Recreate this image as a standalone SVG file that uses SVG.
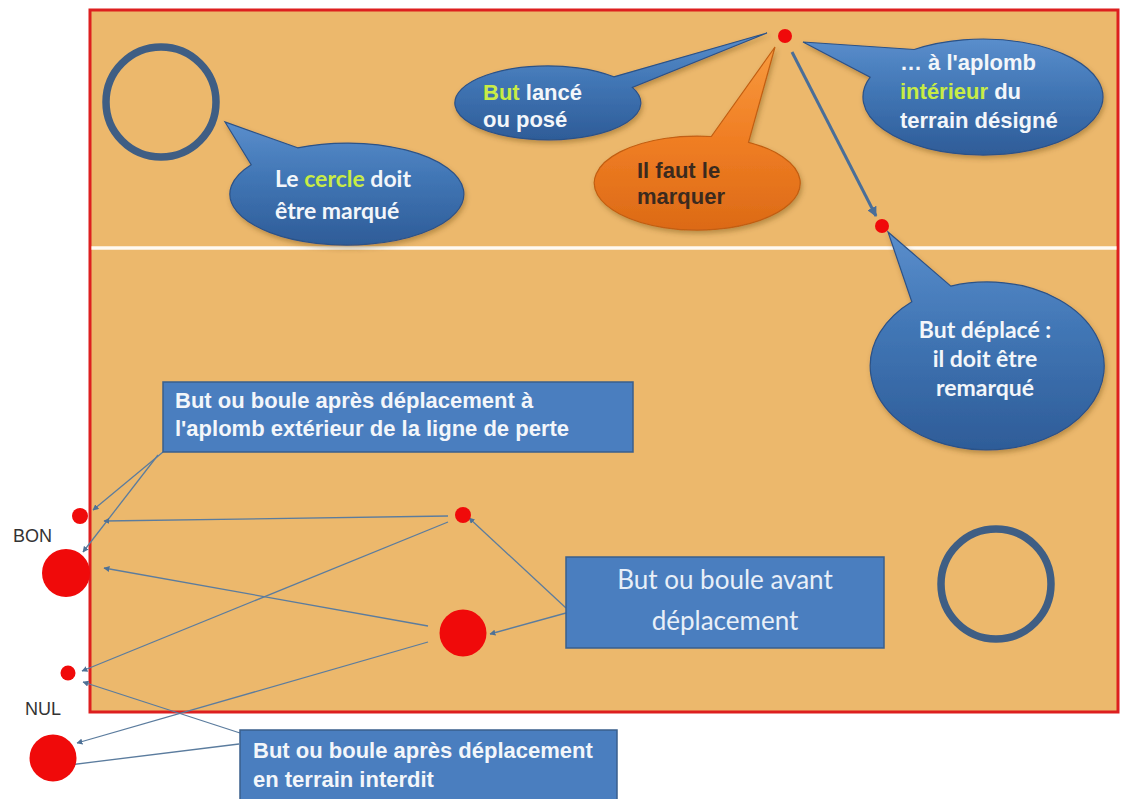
<svg xmlns="http://www.w3.org/2000/svg" width="1121" height="799" viewBox="0 0 1121 799">
  <defs>
    <style>
      .field { fill: #ECB86C; stroke: #DD1F1F; stroke-width: 3; }
      .midline { stroke: #FFFAF2; stroke-width: 3.5; }
      .ring { fill: none; stroke: #3F5E84; stroke-width: 7.5; }
      .ball { fill: #F00A0A; }
      .callout { fill: url(#blueGrad); stroke: #2C5287; stroke-width: 1.2; filter: url(#shadow); }
      .callout-o { fill: url(#orangeGrad); stroke: #C25E12; stroke-width: 1.2; filter: url(#shadow); }
      .box { fill: #4A7EBF; stroke: #3A5F8C; stroke-width: 1.5; }
      .t-arial { font-family: "Liberation Sans", Arial, sans-serif; font-weight: bold; font-size: 22px; fill: #F3F6FA; }
      .t-cal { font-family: Lato, "Open Sans", sans-serif; font-weight: bold; font-size: 23px; fill: #F3F6FA; }
      .t-box2 { font-family: Lato, "Open Sans", sans-serif; font-size: 26px; fill: #E8EFF8; text-anchor: middle; }
      .hl { fill: #C8EC45; }
      .dark { fill: #3B2A1E; }
      .lbl { font-family: "Liberation Sans", Arial, sans-serif; font-size: 18px; fill: #333333; }
      .conn { stroke: #5B7C9E; stroke-width: 1.3; fill: none; marker-end: url(#ah); }
      .conn-thick { stroke: #4A6E98; stroke-width: 3; fill: none; marker-end: url(#ahBig); }
    </style>
    <linearGradient id="blueGrad" x1="0" y1="0" x2="0" y2="1">
      <stop offset="0" stop-color="#5A8ECC"/>
      <stop offset="0.45" stop-color="#4176B5"/>
      <stop offset="1" stop-color="#2E5C98"/>
    </linearGradient>
    <linearGradient id="orangeGrad" x1="0" y1="0" x2="0" y2="1">
      <stop offset="0" stop-color="#F79A3E"/>
      <stop offset="0.5" stop-color="#F07E24"/>
      <stop offset="1" stop-color="#DC6A16"/>
    </linearGradient>
    <filter id="shadow" x="-20%" y="-20%" width="140%" height="150%">
      <feDropShadow dx="1.5" dy="3" stdDeviation="2.5" flood-color="#5A3A10" flood-opacity="0.35"/>
    </filter>
    <marker id="ah" viewBox="0 0 10 10" refX="9" refY="5" markerWidth="6" markerHeight="6" markerUnits="userSpaceOnUse" orient="auto">
      <path d="M0,0 L10,5 L0,10 z" fill="#4E7196"/>
    </marker>
    <marker id="ahBig" viewBox="0 0 10 10" refX="9" refY="5" markerWidth="10" markerHeight="10" markerUnits="userSpaceOnUse" orient="auto">
      <path d="M0,0 L10,5 L0,10 z" fill="#4A6E98"/>
    </marker>
  </defs>

  <rect x="0" y="0" width="1121" height="799" fill="#FFFFFF"/>

  <g id="field">
    <rect class="field" x="90" y="10" width="1028" height="702"/>
    <line class="midline" x1="91.5" y1="248" x2="1116.5" y2="248"/>
  </g>

  <g id="circle-top">
    <circle class="ring" cx="161" cy="102" r="55"/>
  </g>
  <g id="circle-bottom">
    <circle class="ring" cx="996" cy="584" r="55"/>
  </g>

  <g id="connectors">
    <line class="conn" x1="163" y1="452" x2="93" y2="510"/>
    <line class="conn" x1="158" y1="455" x2="83" y2="552"/>
    <line class="conn" x1="448" y1="516" x2="104" y2="521"/>
    <line class="conn" x1="428" y1="626" x2="104" y2="568"/>
    <line class="conn" x1="448" y1="522" x2="82" y2="671"/>
    <line class="conn" x1="428" y1="642" x2="77" y2="743"/>
    <line class="conn" x1="240" y1="733" x2="83" y2="682"/>
    <line class="conn" x1="239" y1="744" x2="69" y2="765"/>
    <line class="conn" x1="566" y1="608" x2="469" y2="518"/>
    <line class="conn" x1="566" y1="613" x2="490" y2="634"/>
    <line class="conn-thick" x1="792" y1="52" x2="876" y2="216"/>
  </g>

  <g id="callout-cercle">
    <path class="callout" d="M297.6,147.8 L225,122 L251.2,164.7 A117 51 0 1 0 297.6,147.8 Z"/>
    <text class="t-cal" x="275" y="187">Le <tspan class="hl">cercle</tspan> doit</text>
    <text class="t-cal" x="275" y="219">être marqué</text>
  </g>

  <g id="callout-but-lance">
    <path class="callout" d="M613.8,76.8 L767,33 L632.3,87.4 A93 37 0 1 1 613.8,76.8 Z"/>
    <text class="t-arial" x="483" y="100"><tspan class="hl">But</tspan> lancé</text>
    <text class="t-arial" x="483" y="127">ou posé</text>
  </g>

  <g id="callout-marquer">
    <path class="callout-o" d="M711.3,136.5 L775,47 L748.5,142.3 A103 47 0 1 1 711.3,136.5 Z"/>
    <text class="t-arial dark" x="637" y="178">Il faut le</text>
    <text class="t-arial dark" x="637" y="204">marquer</text>
  </g>

  <g id="callout-aplomb">
    <path class="callout" d="M914.2,49.5 L803,42 L870.2,77.2 A120 58 0 1 0 914.2,49.5 Z"/>
    <text class="t-arial" x="900" y="70">… à l'aplomb</text>
    <text class="t-arial" x="900" y="99"><tspan class="hl">intérieur</tspan> du</text>
    <text class="t-arial" x="900" y="128">terrain désigné</text>
  </g>

  <g id="callout-deplace">
    <path class="callout" d="M950.8,286.1 L888,232 L911.8,301.7 A117 84 0 1 0 950.8,286.1 Z"/>
    <text class="t-cal" x="985" y="338" text-anchor="middle">But déplacé :</text>
    <text class="t-cal" x="985" y="367" text-anchor="middle">il doit être</text>
    <text class="t-cal" x="985" y="396" text-anchor="middle">remarqué</text>
  </g>

  <g id="dot-top">
    <circle class="ball" cx="785" cy="36" r="7"/>
  </g>
  <g id="dot-moved">
    <circle class="ball" cx="882" cy="226" r="7"/>
  </g>

  <g id="box-exterieur">
    <rect class="box" x="163" y="382" width="470" height="70"/>
    <text class="t-arial" x="175" y="408">But ou boule après déplacement à</text>
    <text class="t-arial" x="175" y="436">l'aplomb extérieur de la ligne de perte</text>
  </g>

  <g id="box-avant">
    <rect class="box" x="566" y="557" width="318" height="91"/>
    <text class="t-box2" x="725" y="589">But ou boule avant</text>
    <text class="t-box2" x="725" y="630">déplacement</text>
  </g>

  <g id="box-interdit">
    <rect class="box" x="240" y="730" width="377" height="75"/>
    <text class="t-arial" x="253" y="758">But ou boule après déplacement</text>
    <text class="t-arial" x="253" y="787">en terrain interdit</text>
  </g>

  <g id="ball-mid-small"><circle class="ball" cx="463" cy="515" r="8"/></g>
  <g id="ball-mid-big"><circle class="ball" cx="463" cy="633" r="23.5"/></g>
  <g id="ball-bon-small"><circle class="ball" cx="80" cy="516" r="8"/></g>
  <g id="ball-bon-big"><circle class="ball" cx="66" cy="573" r="24"/></g>
  <g id="ball-nul-small"><circle class="ball" cx="68" cy="673" r="7.5"/></g>
  <g id="ball-nul-big"><circle class="ball" cx="53" cy="758" r="23.5"/></g>

  <g id="label-bon"><text class="lbl" x="13" y="542">BON</text></g>
  <g id="label-nul"><text class="lbl" x="25" y="715">NUL</text></g>
</svg>
